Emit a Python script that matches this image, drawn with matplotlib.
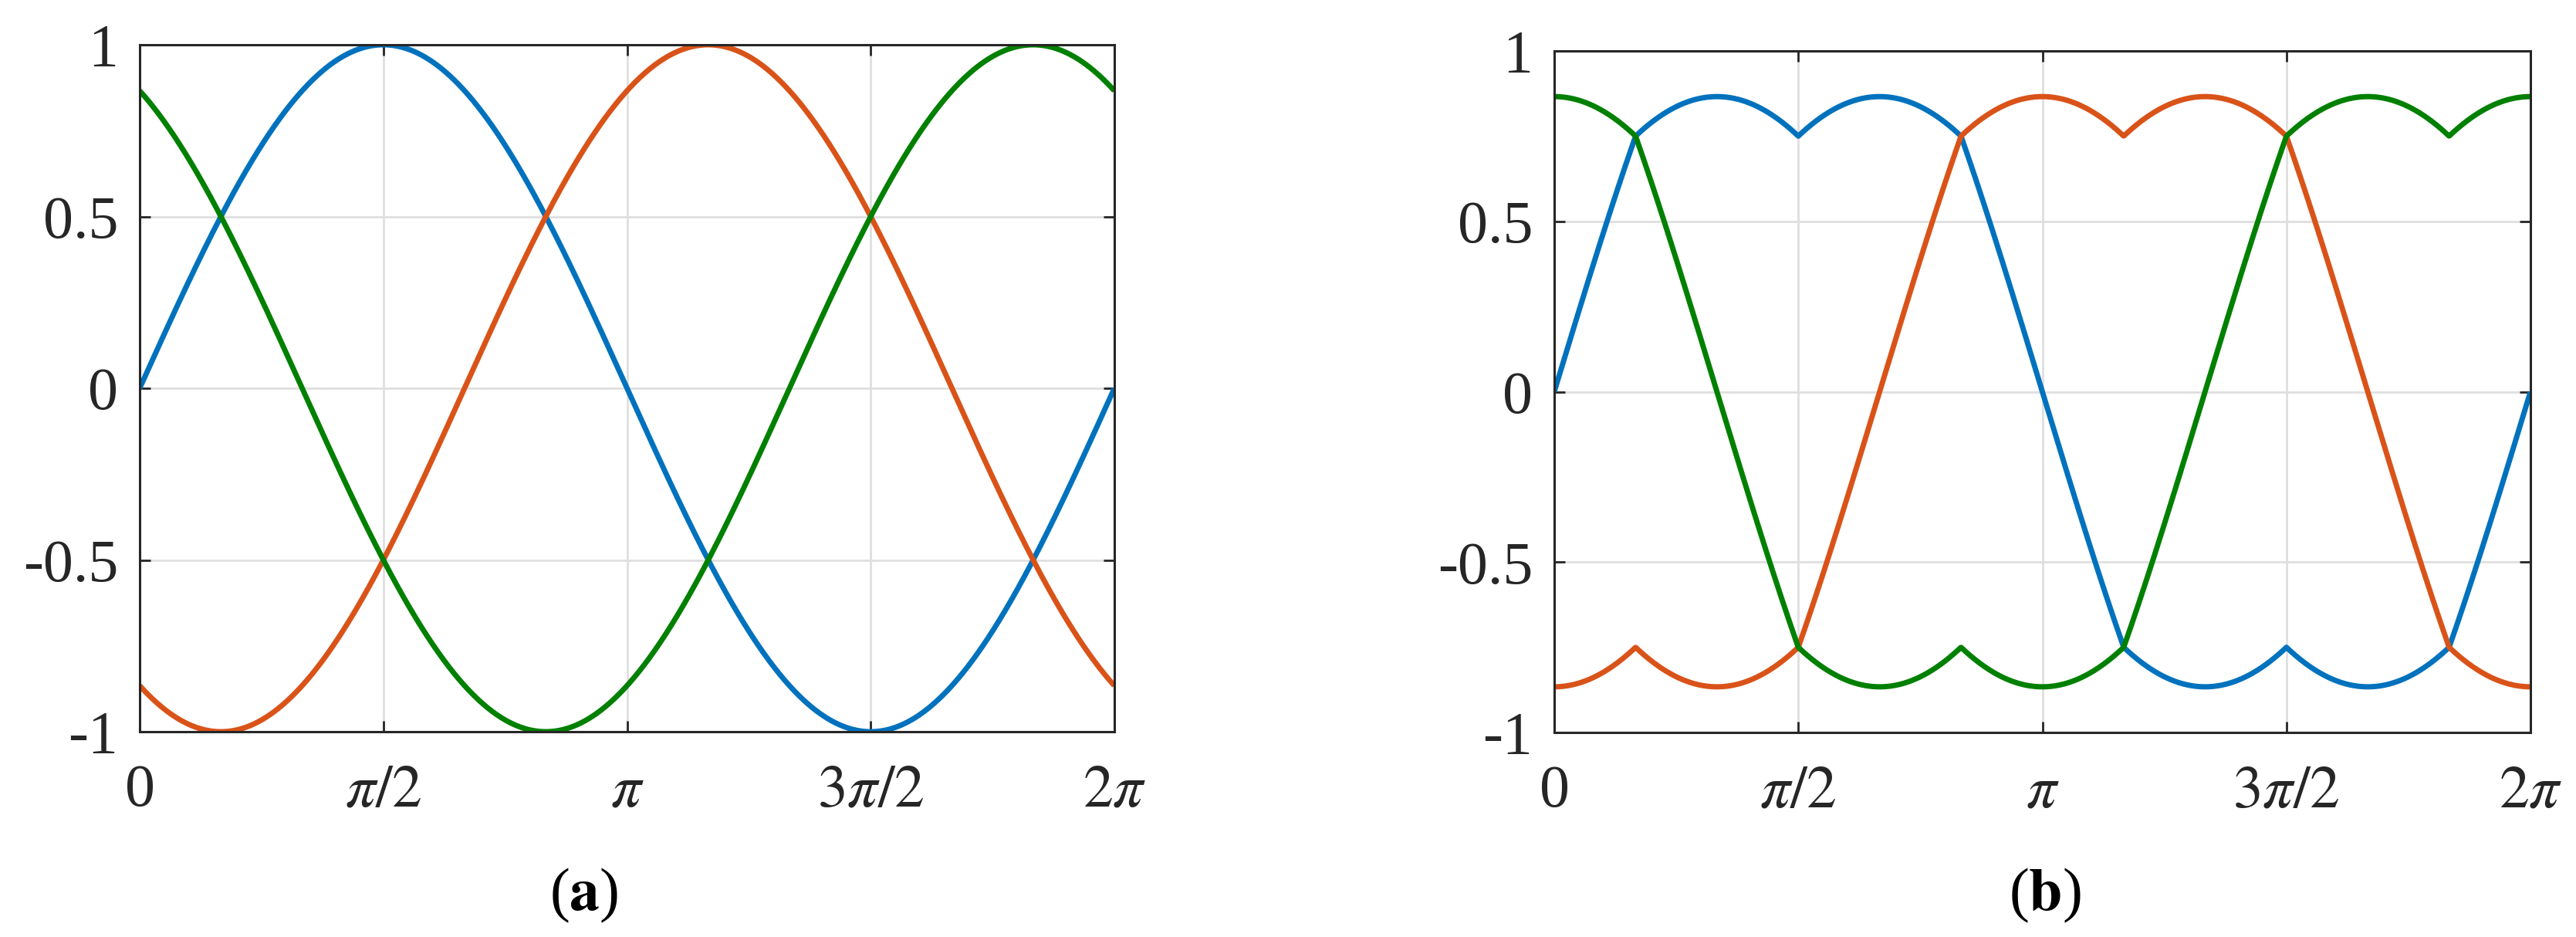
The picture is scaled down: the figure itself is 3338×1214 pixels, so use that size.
import matplotlib.pyplot as plt
import numpy as np

# Three-phase reference signals and the same signals after min-max zero-sequence injection
phase_names = ['a', 'b', 'c']
phase_shift_deg = [0, -120, 120]
amplitude = 1.0
line_colors = ['#0072BD', '#D95319', '#008000']

x_ticks = [0, np.pi / 2, np.pi, 3 * np.pi / 2, 2 * np.pi]
x_tick_labels = ['0', r'$\pi/2$', r'$\pi$', r'$3\pi/2$', r'$2\pi$']
y_ticks = [-1, -0.5, 0, 0.5, 1]
y_tick_labels = ['-1', '-0.5', '0', '0.5', '1']
panel_labels = [r'($\mathbf{a}$)', r'($\mathbf{b}$)']

plt.rcParams['font.family'] = ['Liberation Serif', 'DejaVu Serif']
plt.rcParams['mathtext.fontset'] = 'stix'

theta = np.linspace(0, 2 * np.pi, 2001)
sines = np.array([amplitude * np.sin(theta + np.deg2rad(s)) for s in phase_shift_deg])
offset = (sines.max(axis=0) + sines.min(axis=0)) / 2
injected = sines - offset

fig = plt.figure(figsize=(33.38, 12.14), dpi=100)
axes_boxes = [
    [181 / 3338, 1 - 948 / 1214, (1444 - 181) / 3338, (948 - 58) / 1214],
    [2014 / 3338, 1 - 949 / 1214, (3279 - 2014) / 3338, (949 - 66) / 1214],
]
label_x = [757, 2650]

for k, (box, data) in enumerate(zip(axes_boxes, [sines, injected])):
    ax = fig.add_axes(box)
    for i in range(3):
        ax.plot(theta, data[i], color=line_colors[i], lw=5, solid_capstyle='butt')
    ax.set_xlim(0, 2 * np.pi)
    ax.set_ylim(-1, 1)
    ax.set_xticks(x_ticks)
    ax.set_xticklabels(x_tick_labels)
    ax.set_yticks(y_ticks)
    ax.set_yticklabels(y_tick_labels)
    ax.grid(True, color='#DFDFDF', lw=2)
    ax.set_axisbelow(True)
    for sp in ax.spines.values():
        sp.set_color('#262626')
        sp.set_linewidth(2.2)
        sp.set_zorder(5)
    ax.tick_params(direction='in', length=10, width=2, color='#262626',
                   labelsize=56, labelcolor='#262626', top=True, right=True)
    ax.tick_params(axis='x', pad=30)
    ax.tick_params(axis='y', pad=20)
    fig.text(label_x[k] / 3338, 1 - 1160 / 1214, panel_labels[k], fontsize=56,
             ha='center', va='center', color='black')

plt.savefig('out.png', dpi=100)
